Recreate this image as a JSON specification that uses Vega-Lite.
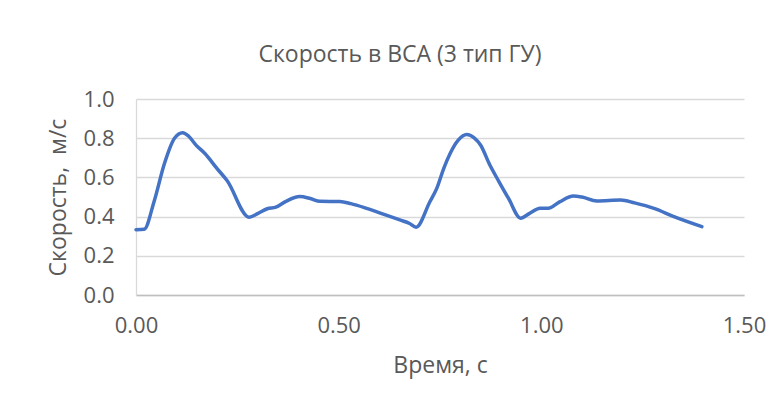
{
  "$schema": "https://vega.github.io/schema/vega-lite/v6.json",
  "width": 608,
  "height": 196,
  "autosize": {"type": "none"},
  "padding": {"left": 136, "top": 99, "right": 37, "bottom": 112},
  "background": "white",
  "title": {
    "text": "Скорость в ВСА (3 тип ГУ)",
    "font": "Open Sans",
    "fontSize": 23,
    "fontWeight": "normal",
    "color": "#595959",
    "anchor": "middle",
    "dx": -40,
    "offset": 21
  },
  "data": {
    "values": [
      {"t": 0.000, "v": 0.333},
      {"t": 0.020, "v": 0.335},
      {"t": 0.045, "v": 0.480},
      {"t": 0.070, "v": 0.670},
      {"t": 0.095, "v": 0.800},
      {"t": 0.115, "v": 0.828},
      {"t": 0.130, "v": 0.810},
      {"t": 0.148, "v": 0.765},
      {"t": 0.170, "v": 0.722},
      {"t": 0.200, "v": 0.645},
      {"t": 0.225, "v": 0.583},
      {"t": 0.279, "v": 0.397},
      {"t": 0.300, "v": 0.415},
      {"t": 0.324, "v": 0.440},
      {"t": 0.345, "v": 0.448},
      {"t": 0.370, "v": 0.478},
      {"t": 0.404, "v": 0.502},
      {"t": 0.430, "v": 0.492},
      {"t": 0.454, "v": 0.478},
      {"t": 0.503, "v": 0.477},
      {"t": 0.530, "v": 0.466},
      {"t": 0.569, "v": 0.442},
      {"t": 0.610, "v": 0.413},
      {"t": 0.651, "v": 0.383},
      {"t": 0.675, "v": 0.365},
      {"t": 0.691, "v": 0.346},
      {"t": 0.725, "v": 0.476},
      {"t": 0.742, "v": 0.544},
      {"t": 0.760, "v": 0.650},
      {"t": 0.775, "v": 0.722},
      {"t": 0.795, "v": 0.790},
      {"t": 0.816, "v": 0.819},
      {"t": 0.835, "v": 0.800},
      {"t": 0.850, "v": 0.765},
      {"t": 0.873, "v": 0.663},
      {"t": 0.895, "v": 0.580},
      {"t": 0.919, "v": 0.493},
      {"t": 0.949, "v": 0.392},
      {"t": 0.970, "v": 0.415},
      {"t": 0.997, "v": 0.442},
      {"t": 1.017, "v": 0.442},
      {"t": 1.045, "v": 0.475},
      {"t": 1.079, "v": 0.505},
      {"t": 1.100, "v": 0.500},
      {"t": 1.137, "v": 0.480},
      {"t": 1.196, "v": 0.485},
      {"t": 1.230, "v": 0.470},
      {"t": 1.278, "v": 0.442},
      {"t": 1.327, "v": 0.400},
      {"t": 1.396, "v": 0.349}
    ]
  },
  "mark": {"type": "line", "color": "#4472C4", "strokeWidth": 3.5, "interpolate": "monotone", "strokeCap": "round", "strokeJoin": "round"},
  "encoding": {
    "x": {
      "field": "t",
      "type": "quantitative",
      "scale": {"domain": [0, 1.5], "nice": false, "zero": false},
      "axis": {
        "title": "Время, с",
        "values": [0, 0.5, 1.0, 1.5],
        "format": ".2f",
        "grid": false,
        "ticks": false,
        "labelFlush": false,
        "domainColor": "#BFBFBF",
        "domainWidth": 1.3,
        "labelPadding": 20,
        "titlePadding": 18
      }
    },
    "y": {
      "field": "v",
      "type": "quantitative",
      "scale": {"domain": [0, 1.0], "nice": false},
      "axis": {
        "title": "Скорость,\u00a0 м/с",
        "values": [0, 0.2, 0.4, 0.6, 0.8, 1.0],
        "format": ".1f",
        "grid": true,
        "gridColor": "#D9D9D9",
        "gridWidth": 1.3,
        "ticks": false,
        "labelFlush": false,
        "domainColor": "#D9D9D9",
        "domainWidth": 1.3,
        "labelPadding": 22,
        "titlePadding": 13
      }
    }
  },
  "config": {
    "view": {"stroke": null},
    "axis": {
      "labelFont": "Open Sans",
      "labelFontSize": 22,
      "labelColor": "#595959",
      "titleFont": "Open Sans",
      "titleFontSize": 23,
      "titleFontWeight": "normal",
      "titleColor": "#595959"
    }
  }
}
